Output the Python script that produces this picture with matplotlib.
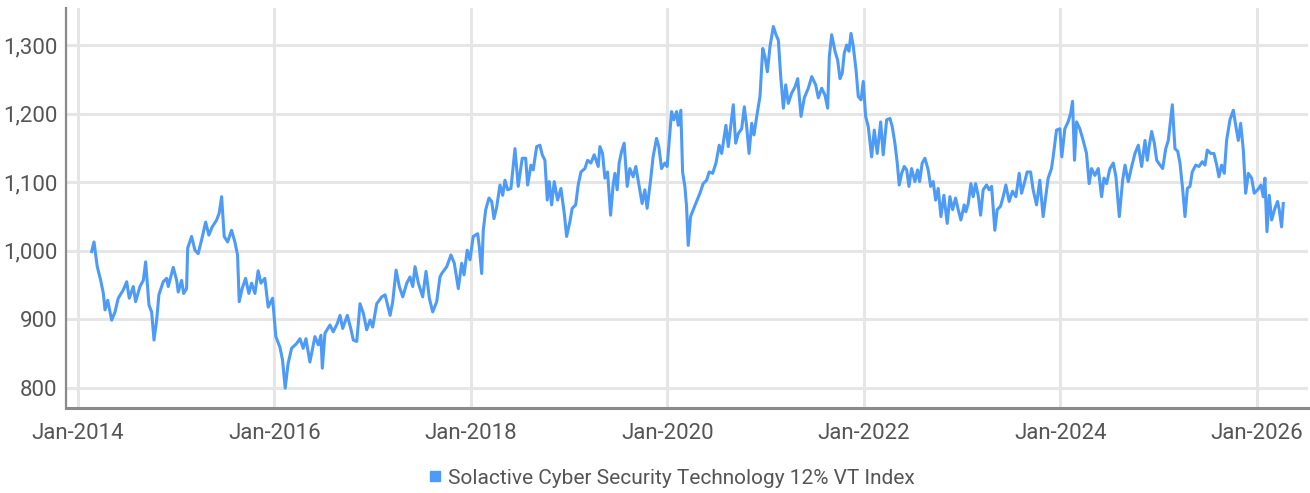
import matplotlib
matplotlib.use("Agg")
import matplotlib.pyplot as plt
import matplotlib.dates as mdates
from matplotlib.lines import Line2D
from matplotlib.ticker import FuncFormatter
import pandas as pd

# ---- data ----
series_name = "Solactive Cyber Security Technology 12% VT Index"

# observation times as decimal years
t_years = [
    2014.139, 2014.163, 2014.196, 2014.231, 2014.258, 2014.275, 2014.302, 2014.343, 2014.377, 2014.410,
    2014.461, 2014.496, 2014.522, 2014.563, 2014.587, 2014.631, 2014.665, 2014.689, 2014.723, 2014.750,
    2014.774, 2014.801, 2014.824, 2014.868, 2014.903, 2014.919, 2014.970, 2015.005, 2015.021, 2015.055,
    2015.076, 2015.106, 2015.117, 2015.157, 2015.191, 2015.224, 2015.259, 2015.300, 2015.333, 2015.367,
    2015.412, 2015.438, 2015.463, 2015.489, 2015.524, 2015.564, 2015.598, 2015.625, 2015.642, 2015.672,
    2015.707, 2015.740, 2015.768, 2015.802, 2015.835, 2015.863, 2015.903, 2015.937, 2015.982, 2016.015,
    2016.056, 2016.083, 2016.110, 2016.140, 2016.175, 2016.226, 2016.260, 2016.293, 2016.321, 2016.361,
    2016.412, 2016.446, 2016.473, 2016.487, 2016.514, 2016.565, 2016.598, 2016.639, 2016.667, 2016.694,
    2016.741, 2016.776, 2016.802, 2016.837, 2016.870, 2016.904, 2016.938, 2016.972, 2016.999, 2017.040,
    2017.091, 2017.125, 2017.176, 2017.203, 2017.237, 2017.270, 2017.305, 2017.346, 2017.379, 2017.407,
    2017.430, 2017.464, 2017.508, 2017.542, 2017.576, 2017.610, 2017.651, 2017.684, 2017.702, 2017.753,
    2017.796, 2017.830, 2017.871, 2017.905, 2017.929, 2017.962, 2017.990, 2018.023, 2018.068, 2018.085,
    2018.109, 2018.125, 2018.150, 2018.183, 2018.211, 2018.234, 2018.262, 2018.295, 2018.323, 2018.346,
    2018.374, 2018.407, 2018.448, 2018.481, 2018.522, 2018.557, 2018.577, 2018.611, 2018.634, 2018.669,
    2018.702, 2018.726, 2018.753, 2018.777, 2018.797, 2018.821, 2018.848, 2018.882, 2018.916, 2018.950,
    2018.974, 2019.008, 2019.031, 2019.066, 2019.092, 2019.120, 2019.160, 2019.188, 2019.221, 2019.255,
    2019.296, 2019.313, 2019.340, 2019.364, 2019.391, 2019.422, 2019.448, 2019.466, 2019.489, 2019.509,
    2019.534, 2019.560, 2019.591, 2019.618, 2019.652, 2019.679, 2019.713, 2019.743, 2019.771, 2019.794,
    2019.829, 2019.855, 2019.890, 2019.913, 2019.941, 2019.974, 2019.998, 2020.025, 2020.043, 2020.066,
    2020.094, 2020.110, 2020.137, 2020.155, 2020.178, 2020.195, 2020.212, 2020.236, 2020.263, 2020.297,
    2020.331, 2020.364, 2020.399, 2020.425, 2020.460, 2020.494, 2020.527, 2020.552, 2020.595, 2020.619,
    2020.643, 2020.670, 2020.694, 2020.721, 2020.755, 2020.782, 2020.806, 2020.830, 2020.857, 2020.880,
    2020.908, 2020.941, 2020.969, 2020.992, 2021.016, 2021.043, 2021.077, 2021.104, 2021.128, 2021.152,
    2021.179, 2021.203, 2021.229, 2021.264, 2021.298, 2021.325, 2021.359, 2021.392, 2021.433, 2021.468,
    2021.508, 2021.535, 2021.569, 2021.603, 2021.630, 2021.647, 2021.671, 2021.705, 2021.732, 2021.756,
    2021.779, 2021.799, 2021.824, 2021.847, 2021.868, 2021.891, 2021.919, 2021.942, 2021.970, 2021.993,
    2022.017, 2022.044, 2022.078, 2022.105, 2022.135, 2022.170, 2022.196, 2022.231, 2022.265, 2022.288,
    2022.315, 2022.339, 2022.359, 2022.384, 2022.410, 2022.435, 2022.458, 2022.485, 2022.519, 2022.546,
    2022.567, 2022.593, 2022.621, 2022.654, 2022.679, 2022.705, 2022.730, 2022.756, 2022.784, 2022.814,
    2022.848, 2022.875, 2022.903, 2022.933, 2022.960, 2022.987, 2023.021, 2023.038, 2023.062, 2023.089,
    2023.112, 2023.137, 2023.163, 2023.188, 2023.214, 2023.249, 2023.275, 2023.300, 2023.333, 2023.357,
    2023.391, 2023.418, 2023.445, 2023.479, 2023.513, 2023.547, 2023.581, 2023.605, 2023.632, 2023.662,
    2023.697, 2023.723, 2023.758, 2023.791, 2023.825, 2023.852, 2023.876, 2023.910, 2023.927, 2023.961,
    2023.995, 2024.015, 2024.046, 2024.079, 2024.104, 2024.124, 2024.144, 2024.165, 2024.198, 2024.232,
    2024.266, 2024.293, 2024.317, 2024.351, 2024.385, 2024.419, 2024.443, 2024.470, 2024.504, 2024.538,
    2024.565, 2024.599, 2024.633, 2024.657, 2024.690, 2024.725, 2024.758, 2024.792, 2024.826, 2024.860,
    2024.883, 2024.904, 2024.928, 2024.955, 2024.979, 2025.013, 2025.040, 2025.071, 2025.097, 2025.138,
    2025.165, 2025.193, 2025.216, 2025.244, 2025.267, 2025.291, 2025.318, 2025.341, 2025.376, 2025.410,
    2025.443, 2025.471, 2025.494, 2025.529, 2025.562, 2025.590, 2025.613, 2025.640, 2025.667, 2025.691,
    2025.725, 2025.759, 2025.786, 2025.810, 2025.834, 2025.861, 2025.885, 2025.912, 2025.946, 2025.972,
    2026.007, 2026.041, 2026.064, 2026.081, 2026.102, 2026.125, 2026.150, 2026.183, 2026.210, 2026.227,
    2026.251, 2026.268,
]

index_values = [
    999, 1013, 977, 957, 938, 914, 928, 899, 911, 931,
    943, 955, 931, 948, 926, 948, 957, 984, 921, 911,
    870, 899, 936, 955, 960, 948, 976, 957, 940, 957,
    938, 945, 1004, 1021, 1001, 996, 1016, 1042, 1023, 1035,
    1045, 1055, 1079, 1021, 1013, 1030, 1013, 994, 926, 945,
    960, 938, 953, 938, 971, 953, 960, 918, 931, 875,
    860, 841, 800, 836, 858, 865, 872, 858, 872, 838,
    875, 863, 877, 829, 880, 892, 882, 894, 906, 887,
    906, 887, 870, 868, 923, 909, 885, 899, 889, 923,
    933, 936, 906, 926, 972, 948, 933, 953, 962, 948,
    977, 953, 933, 970, 931, 911, 926, 962, 967, 977,
    994, 982, 945, 982, 965, 1001, 987, 1021, 1025, 1006,
    967, 1030, 1060, 1077, 1072, 1047, 1064, 1096, 1081, 1103,
    1089, 1091, 1149, 1094, 1135, 1135, 1096, 1125, 1118, 1152,
    1154, 1140, 1132, 1074, 1101, 1067, 1101, 1074, 1091, 1055,
    1021, 1043, 1062, 1067, 1096, 1115, 1120, 1132, 1128, 1140,
    1123, 1152, 1142, 1106, 1115, 1052, 1096, 1113, 1089, 1128,
    1145, 1157, 1094, 1120, 1108, 1123, 1094, 1069, 1089, 1062,
    1103, 1137, 1164, 1152, 1120, 1128, 1123, 1171, 1203, 1191,
    1203, 1183, 1205, 1115, 1094, 1065, 1008, 1050, 1060, 1072,
    1084, 1098, 1103, 1115, 1113, 1128, 1154, 1142, 1183, 1152,
    1181, 1213, 1157, 1171, 1178, 1210, 1181, 1142, 1186, 1169,
    1196, 1225, 1295, 1283, 1261, 1298, 1327, 1315, 1307, 1254,
    1208, 1242, 1215, 1230, 1239, 1251, 1196, 1223, 1237, 1254,
    1242, 1223, 1237, 1227, 1208, 1283, 1315, 1291, 1278, 1251,
    1259, 1288, 1300, 1291, 1317, 1298, 1264, 1225, 1220, 1247,
    1196, 1181, 1137, 1176, 1142, 1188, 1140, 1191, 1193, 1181,
    1157, 1128, 1096, 1113, 1123, 1118, 1094, 1120, 1101, 1118,
    1101, 1128, 1135, 1118, 1094, 1101, 1074, 1091, 1050, 1081,
    1040, 1079, 1060, 1077, 1060, 1045, 1067, 1057, 1069, 1098,
    1079, 1098, 1081, 1052, 1089, 1096, 1089, 1094, 1030, 1060,
    1065, 1079, 1096, 1072, 1087, 1079, 1113, 1084, 1098, 1115,
    1115, 1089, 1067, 1103, 1050, 1079, 1106, 1120, 1137, 1176,
    1178, 1137, 1178, 1188, 1200, 1218, 1132, 1188, 1178, 1161,
    1142, 1098, 1120, 1110, 1120, 1079, 1106, 1098, 1120, 1128,
    1108, 1050, 1103, 1125, 1101, 1123, 1142, 1154, 1123, 1161,
    1132, 1154, 1174, 1157, 1132, 1125, 1120, 1149, 1161, 1213,
    1149, 1145, 1128, 1089, 1050, 1091, 1094, 1115, 1125, 1123,
    1130, 1125, 1147, 1142, 1142, 1125, 1108, 1125, 1113, 1161,
    1191, 1205, 1181, 1161, 1186, 1147, 1084, 1113, 1106, 1084,
    1089, 1096, 1079, 1106, 1028, 1081, 1045, 1062, 1072, 1060,
    1035, 1069,
]

y_ticks = [800, 900, 1000, 1100, 1200, 1300]
x_tick_years = [2014, 2016, 2018, 2020, 2022, 2024, 2026]


def to_date(t):
    year = int(t)
    start = pd.Timestamp(year=year, month=1, day=1)
    end = pd.Timestamp(year=year + 1, month=1, day=1)
    return start + (end - start) * (t - year)


dates = [to_date(t) for t in t_years]

# ---- styling ----
LINE = "#4D9BF7"
GRID = "#E6E6E6"
TEXT = "#555555"
AXIS = "#8A8A8A"

plt.rcParams["font.family"] = ["Roboto", "DejaVu Sans"]

fig = plt.figure(figsize=(13.10, 4.93), dpi=100)
ax = fig.add_axes([0.0504, 0.1724, 0.948, 0.8114])

ax.plot(dates, index_values, color=LINE, linewidth=2.2, solid_joinstyle="round", zorder=3)

ax.set_ylim(771, 1354)
ax.set_xlim(to_date(2013.878), to_date(2026.519))

ax.set_yticks(y_ticks)
ax.yaxis.set_major_formatter(FuncFormatter(lambda v, p: f"{v:,.0f}"))
ax.set_xticks([pd.Timestamp(year=y, month=1, day=1) for y in x_tick_years])
ax.xaxis.set_major_formatter(mdates.DateFormatter("%b-%Y"))

ax.grid(True, color=GRID, linewidth=2.2, zorder=0)
ax.set_axisbelow(True)

for s in ("top", "right"):
    ax.spines[s].set_visible(False)
ax.spines["left"].set_color(AXIS)
ax.spines["left"].set_linewidth(1.6)
ax.spines["bottom"].set_color(AXIS)
ax.spines["bottom"].set_linewidth(2.2)

ax.tick_params(axis="both", length=0, labelsize=16, labelcolor=TEXT)
ax.tick_params(axis="x", pad=11)
ax.tick_params(axis="y", pad=6)

handle = Line2D([], [], marker="s", linestyle="none", color=LINE, markersize=7)
fig.legend([handle], [series_name], loc="center", bbox_to_anchor=(0.512, 0.030),
           frameon=False, fontsize=15, labelcolor=TEXT, handletextpad=0.2,
           handlelength=0.8, borderaxespad=0)

fig.savefig("out.png", dpi=100)
